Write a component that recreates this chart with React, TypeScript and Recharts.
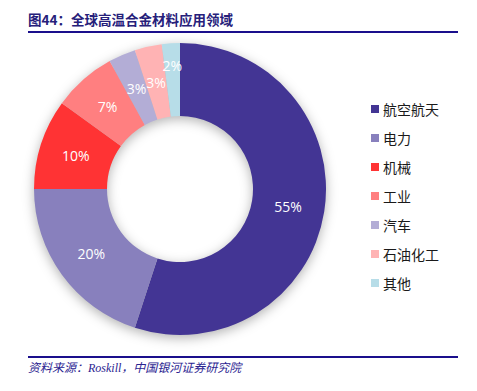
import React from 'react';
import { PieChart, Pie, Cell, Legend } from 'recharts';

const categories = ['航空航天', '电力', '机械', '工业', '汽车', '石油化工', '其他'];
const shares = [55, 20, 10, 7, 3, 3, 2];
const colors = ['#433594', '#8880BD', '#FF3334', '#FF7F80', '#B3ADD6', '#FFB3B4', '#B7DDE8'];

const data = categories.map((name, i) => ({ name, value: shares[i] }));

const RAD = Math.PI / 180;

const renderLabel = (props: any) => {
  const { cx, cy, midAngle, innerRadius, outerRadius, value, index } = props;
  const base = (innerRadius + outerRadius) / 2;
  const r = index === data.length - 1 ? base + 14 : base;
  const x = cx + r * Math.cos(-midAngle * RAD);
  const y = cy + r * Math.sin(-midAngle * RAD);
  return (
    <text
      x={x}
      y={y}
      fill="#ffffff"
      textAnchor="middle"
      dominantBaseline="central"
      fontSize={14}
      fontFamily="'Open Sans', 'Noto Sans', sans-serif"
    >
      {`${value}%`}
    </text>
  );
};

const renderLegend = () => {
  return (
    <div style={{ display: 'flex', flexDirection: 'column' }}>
      {categories.map((name, i) => (
        <div
          key={name}
          style={{ display: 'flex', alignItems: 'center', height: 29 }}
        >
          <span
            style={{
              display: 'inline-block',
              width: 8,
              height: 8,
              background: colors[i],
              marginRight: 4,
            }}
          />
          <span
            style={{
              fontSize: 14,
              color: '#1a1a1a',
              fontFamily: "'Noto Sans CJK SC', sans-serif",
              lineHeight: '16px',
            }}
          >
            {name}
          </span>
        </div>
      ))}
    </div>
  );
};

export default function App() {
  return (
    <div
      style={{
        position: 'absolute',
        left: 0,
        top: 0,
        width: 477,
        height: 391,
        background: '#ffffff',
      }}
    >
      <style>{`.recharts-pie { filter: drop-shadow(0px 3px 6px rgba(0,0,0,0.3)); }`}</style>
      <div
        style={{
          position: 'absolute',
          left: 28,
          top: 10,
          fontSize: 13.5,
          fontWeight: 'bold',
          color: '#26207A',
          fontFamily: "'Noto Sans CJK SC', serif",
          lineHeight: '18px',
          whiteSpace: 'nowrap',
        }}
      >
        图44：全球高温合金材料应用领域
      </div>
      <div
        style={{
          position: 'absolute',
          left: 28,
          top: 31,
          width: 430,
          height: 2,
          background: '#1A0F8C',
        }}
      />
      <div style={{ position: 'absolute', left: 0, top: 0 }}>
        <PieChart width={477} height={391} margin={{ top: 0, right: 0, bottom: 0, left: 0 }}>
          <Pie
            data={data}
            dataKey="value"
            nameKey="name"
            cx={180}
            cy={189}
            innerRadius={73}
            outerRadius={146}
            startAngle={90}
            endAngle={-270}
            stroke="none"
            label={renderLabel}
            labelLine={false}
            isAnimationActive={false}
          >
            {data.map((d, i) => (
              <Cell key={d.name} fill={colors[i]} />
            ))}
          </Pie>
          <Legend
            layout="vertical"
            align="right"
            verticalAlign="top"
            content={renderLegend}
            wrapperStyle={{ left: 371, top: 94, width: 100 }}
          />
        </PieChart>
      </div>
      <div
        style={{
          position: 'absolute',
          left: 28,
          top: 356,
          width: 430,
          height: 2,
          background: '#1A0F8C',
        }}
      />
      <div
        style={{
          position: 'absolute',
          left: 28,
          top: 360,
          fontSize: 12,
          fontStyle: 'italic',
          color: '#2B2491',
          fontFamily: "'Liberation Serif', 'Noto Sans CJK SC', serif",
          lineHeight: '16px',
          whiteSpace: 'nowrap',
        }}
      >
        资料来源：Roskill，中国银河证券研究院
      </div>
    </div>
  );
}
